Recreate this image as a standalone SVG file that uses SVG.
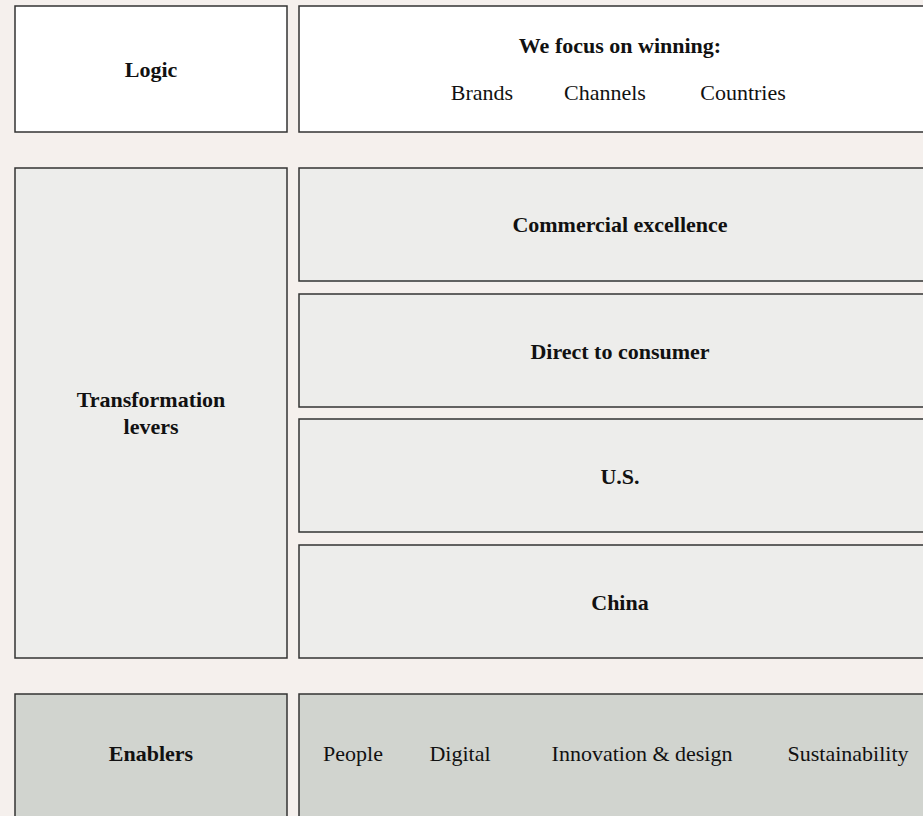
<svg xmlns="http://www.w3.org/2000/svg" width="923" height="816" viewBox="0 0 923 816">
<style>
.box{stroke:#333;stroke-width:1.5}
.w{fill:#ffffff}
.g{fill:#ededeb}
.e{fill:#d1d4cf}
text{font-family:"Liberation Serif","Times New Roman",serif;font-size:22px;fill:#111;text-anchor:middle}
.b{font-weight:bold}
</style>
<rect x="0" y="0" width="923" height="816" fill="#f5f0ed"/>
<g id="logic"><rect class="box w" x="15" y="6" width="272" height="126"/><text class="b" x="151" y="77">Logic</text></g>
<g id="focus"><rect class="box w" x="299" y="6" width="642" height="126"/>
<text class="b" x="620" y="53">We focus on winning:</text>
<text x="482" y="100">Brands</text><text x="605" y="100">Channels</text><text x="743" y="100">Countries</text></g>
<g id="levers"><rect class="box g" x="15" y="168" width="272" height="490"/><text class="b" x="151" y="407">Transformation</text><text class="b" x="151" y="434">levers</text></g>
<g id="commercial"><rect class="box g" x="299" y="168" width="642" height="113"/><text class="b" x="620" y="232">Commercial excellence</text></g>
<g id="dtc"><rect class="box g" x="299" y="294" width="642" height="113"/><text class="b" x="620" y="359">Direct to consumer</text></g>
<g id="us"><rect class="box g" x="299" y="419" width="642" height="113"/><text class="b" x="620" y="484">U.S.</text></g>
<g id="china"><rect class="box g" x="299" y="545" width="642" height="113"/><text class="b" x="620" y="610">China</text></g>
<g id="enablers"><rect class="box e" x="15" y="694" width="272" height="140"/><text class="b" x="151" y="761">Enablers</text></g>
<g id="enablerlist"><rect class="box e" x="299" y="694" width="642" height="140"/>
<text x="353" y="761">People</text><text x="460" y="761">Digital</text><text x="642" y="761">Innovation &amp; design</text><text x="848" y="761">Sustainability</text></g>
<g id="connectors"></g>
</svg>
